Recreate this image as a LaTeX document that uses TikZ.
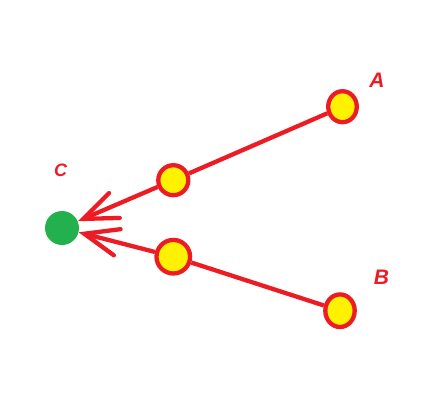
\documentclass[tikz,border=0pt]{standalone}
\usepackage{fontspec}
\setmainfont{Liberation Sans}
\usetikzlibrary{shapes.geometric,arrows.meta,backgrounds}
\definecolor{pred}{HTML}{ED1C24}
\definecolor{pyel}{HTML}{FFF200}
\definecolor{pgrn}{HTML}{22B14C}
\begin{document}
\begin{tikzpicture}[x=1pt,y=-1pt,
  ynode/.style={ellipse,draw=pred,fill=pyel,line width=4.3pt,inner sep=0pt},
  gnode/.style={circle,fill=pgrn,inner sep=0pt,minimum size=34pt},
  lab/.style={text=pred,font=\bfseries\itshape\fontsize{21}{21}\selectfont,inner sep=0pt},
  conn/.style={draw=pred,line width=4.3pt},
  arr/.style={conn,-{Straight Barb[length=34pt,width=27pt,line cap=round]}}]
\useasboundingbox (0,0) rectangle (440,416);
\node[gnode] (c) at (62,228) {};
\node[ynode,minimum width=30pt,minimum height=30pt] (m1) at (173.3,180.2) {};
\node[ynode,minimum width=33.6pt,minimum height=33.6pt] (m2) at (173.3,256.7) {};
\node[ynode,minimum width=28.6pt,minimum height=31pt] (a) at (342.5,106.7) {};
\node[ynode,minimum width=29.4pt,minimum height=32.6pt] (b) at (340,310.7) {};
\begin{scope}[on background layer]
\fill[white] (0,0) rectangle (440,416);
\draw[conn] (a) -- (m1);
\draw[conn] (b) -- (m2);
\draw[arr] (m1) -- (c);
\draw[arr] (m2) -- (c);
\end{scope}
\node[lab] (la) at (377,80.5) {A};
\node[lab] (lb) at (381.5,277.5) {B};
\node[lab,font=\bfseries\itshape\fontsize{18}{18}\selectfont] (lc) at (60.5,170.5) {C};
\end{tikzpicture}
\end{document}
